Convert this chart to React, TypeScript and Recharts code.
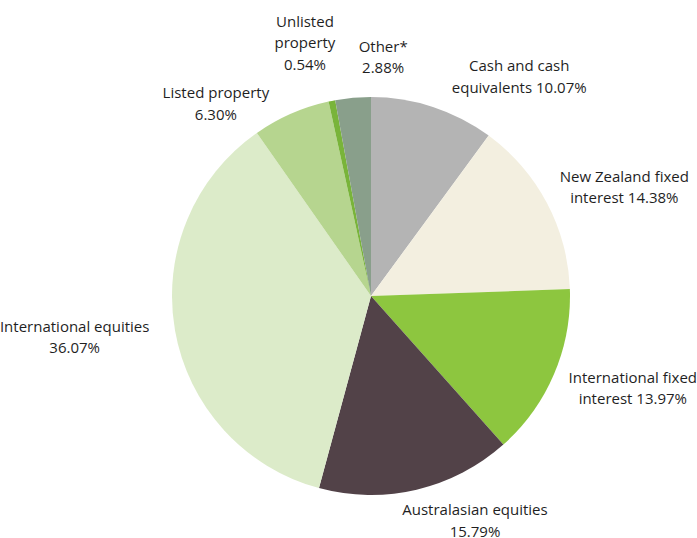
import React from "react";
import { PieChart, Pie, Cell } from "recharts";

// Categories (clockwise from 12 o'clock)
const categories = [
  "Cash and cash equivalents",
  "New Zealand fixed interest",
  "International fixed interest",
  "Australasian equities",
  "International equities",
  "Listed property",
  "Unlisted property",
  "Other*",
];

// Allocation percentages
const values = [10.07, 14.38, 13.97, 15.79, 36.07, 6.3, 0.54, 2.88];

// Label text lines (percentage is appended inline or on its own line)
const labelLines = [
  ["Cash and cash", "equivalents"],
  ["New Zealand fixed", "interest"],
  ["International fixed", "interest"],
  ["Australasian equities"],
  ["International equities"],
  ["Listed property"],
  ["Unlisted", "property"],
  ["Other*"],
];
const pctInline = [true, true, true, false, false, false, false, false];

const colors = [
  "#b4b4b4",
  "#f3efe0",
  "#8dc63f",
  "#524248",
  "#dcebc9",
  "#b6d58f",
  "#79b43a",
  "#899f8b",
];

// Label placement (polar: degrees clockwise from top, distance in radii)
const labelAngle = [34, 66.6, 109.3, 155.1, 262.2, 321.2, 345.4, 2.9];
const labelDist = [1.332, 1.387, 1.394, 1.241, 1.503, 1.244, 1.317, 1.206];

const data = categories.map((name, i) => ({ name, value: values[i] }));

const LINE_H = 21.5;

const renderLabel = (props: any) => {
  const { cx, cy, outerRadius, index, value } = props;
  const ang = (labelAngle[index] * Math.PI) / 180;
  const r = outerRadius * labelDist[index];
  const x = cx + r * Math.sin(ang);
  const y = cy - r * Math.cos(ang);
  const pct = `${Number(value).toFixed(2)}%`;
  const lines = [...labelLines[index]];
  if (pctInline[index]) {
    lines[lines.length - 1] = `${lines[lines.length - 1]} ${pct}`;
  } else {
    lines.push(pct);
  }
  const startY = y - ((lines.length - 1) * LINE_H) / 2;
  return (
    <text
      key={`lbl-${index}`}
      x={x}
      y={startY}
      textAnchor="middle"
      dominantBaseline="central"
      fill="#1f1f1f"
      fontSize={15}
      fontFamily="'Open Sans', sans-serif"
    >
      {lines.map((ln, k) => (
        <tspan key={k} x={x} y={startY + k * LINE_H}>
          {ln}
        </tspan>
      ))}
    </text>
  );
};

export default function App() {
  return (
    <div style={{ position: "absolute", left: 0, top: 0, width: 697, height: 538, background: "#fff" }}>
      <PieChart width={697} height={538} margin={{ top: 0, right: 0, bottom: 0, left: 0 }}>
        <Pie
          data={data}
          dataKey="value"
          nameKey="name"
          cx={371}
          cy={296}
          outerRadius={199}
          startAngle={90}
          endAngle={-270}
          stroke="none"
          label={renderLabel}
          labelLine={false}
          isAnimationActive={false}
        >
          {data.map((d, i) => (
            <Cell key={d.name} fill={colors[i]} />
          ))}
        </Pie>
      </PieChart>
    </div>
  );
}
